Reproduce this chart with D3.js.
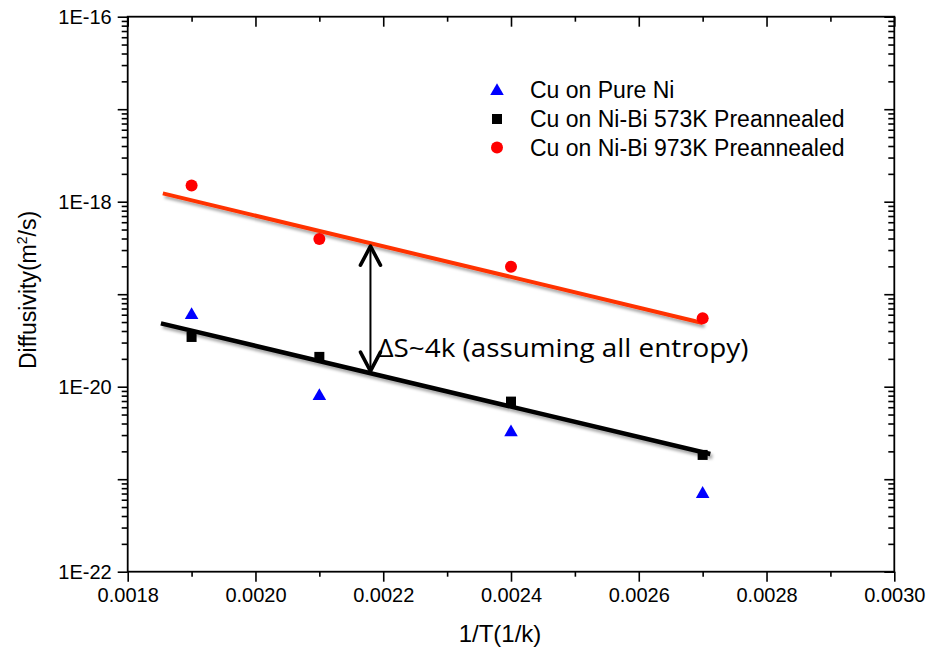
<!DOCTYPE html>
<html><head><meta charset="utf-8">
<script src="https://cdn.jsdelivr.net/npm/d3@7"></script>
<style>body{margin:0;background:#fff}svg{display:block}</style>
</head><body>
<svg id="chart" width="927" height="651"></svg>
<script>
// ---- data ----
const xVals = [0.0019, 0.0021, 0.0024, 0.0027];
const pureNi = [6.1e-20, 8.1e-21, 3.3e-21, 7.1e-22];
const niBi573 = [3.45e-20, 2.1e-20, 6.9e-21, 1.83e-21];
const niBi973 = [1.5e-18, 3.95e-19, 1.98e-19, 5.5e-20];
const fit973X = [0.001855, 0.0027];
const fit973Y = [1.23e-18, 4.89e-20];
const fit573X = [0.001852, 0.002712];
const fit573Y = [4.84e-20, 1.87e-21];
const xTickLabels = ["0.0018","0.0020","0.0022","0.0024","0.0026","0.0028","0.0030"];
const yTickLabels = ["1E-22","1E-20","1E-18","1E-16"];
const legendLabels = ["Cu on Pure Ni","Cu on Ni-Bi 573K Preannealed","Cu on Ni-Bi 973K Preannealed"];
const annotX = 0.00218;
const annotText = "ΔS~4k (assuming all entropy)";

(function(){
const svg = d3.select("#chart");
const L = 127.7, R = 894.3, T = 16.7, B = 571.7;
const x = d3.scaleLinear().domain([0.0018, 0.0030]).range([L, R]);
const y = d3.scaleLog().domain([1e-22, 1e-16]).range([B, T]);

const defs = svg.append("defs");
const f = defs.append("filter").attr("id","sh").attr("x","-10%").attr("y","-50%").attr("width","120%").attr("height","200%");
f.append("feDropShadow").attr("dx",2).attr("dy",3).attr("stdDeviation",1.6).attr("flood-color","#000").attr("flood-opacity",0.35);

// ---- axes ----
const xMajor = d3.range(0, 7).map(i => 0.0018 + i*0.0002);
const xMinor = d3.range(0, 6).map(i => 0.0019 + i*0.0002);
const yMajor = d3.range(-22, -15).map(e => Math.pow(10, e));
const yMinor = [];
for (let e = -22; e < -16; e++) for (let k = 2; k <= 9; k++) yMinor.push(k*Math.pow(10, e));

const ax = svg.append("g").attr("stroke","#000").attr("fill","none");
const gBottom = ax.append("g").attr("transform",`translate(0,${B})`)
  .call(d3.axisBottom(x).tickValues(xMajor).tickSize(10).tickFormat((d,i)=>xTickLabels[i]));
ax.append("g").attr("transform",`translate(0,${B})`)
  .call(d3.axisBottom(x).tickValues(xMinor).tickSize(5).tickFormat(""));
ax.append("g").attr("transform",`translate(0,${T})`)
  .call(d3.axisBottom(x).tickValues(xMajor).tickSize(10).tickFormat(""));
ax.append("g").attr("transform",`translate(0,${T})`)
  .call(d3.axisBottom(x).tickValues(xMinor).tickSize(5).tickFormat(""));
const gLeft = ax.append("g").attr("transform",`translate(${L},0)`)
  .call(d3.axisLeft(y).tickValues(yMajor).tickSize(10)
    .tickFormat(d => { const e = Math.round(Math.log10(d)); return e % 2 === 0 ? yTickLabels[(e+22)/2] : ""; }));
ax.append("g").attr("transform",`translate(${L},0)`)
  .call(d3.axisLeft(y).tickValues(yMinor).tickSize(6).tickFormat(""));
ax.append("g").attr("transform",`translate(${R},0)`)
  .call(d3.axisLeft(y).tickValues(yMajor).tickSize(10).tickFormat(""));
ax.append("g").attr("transform",`translate(${R},0)`)
  .call(d3.axisLeft(y).tickValues(yMinor).tickSize(6).tickFormat(""));

svg.selectAll(".domain").remove();
svg.selectAll(".tick line").attr("stroke","#000").attr("stroke-width",1.6);
svg.selectAll(".tick text").attr("fill","#000").attr("stroke","none")
  .style("font-family","'Liberation Sans', Arial, sans-serif").style("font-size","20px");
gBottom.selectAll(".tick text").attr("y", 16).attr("dy","0.71em");
gLeft.selectAll(".tick text").attr("x", -16).attr("dy","0.35em");

svg.append("rect").attr("x",L).attr("y",T).attr("width",R-L).attr("height",B-T)
  .attr("fill","none").attr("stroke","#000").attr("stroke-width",1.8);

// ---- axis titles ----
svg.append("text").attr("x",500).attr("y",642).attr("text-anchor","middle")
  .style("font-family","'Liberation Sans', Arial, sans-serif").style("font-size","24px").text("1/T(1/k)");
const yt = svg.append("text").attr("transform","translate(36,290) rotate(-90)").attr("text-anchor","middle")
  .style("font-family","'Liberation Sans', Arial, sans-serif").style("font-size","23px");
yt.append("tspan").text("Diffusivity(m");
yt.append("tspan").attr("dy",-9).style("font-size","14px").text("2");
yt.append("tspan").attr("dy",9).text("/s)");

// ---- fit lines ----
const line = d3.line().x(d => x(d[0])).y(d => y(d[1]));
svg.append("path").datum(d3.zip(fit973X, fit973Y)).attr("d", line)
  .attr("stroke","#ff3300").attr("stroke-width",4).attr("fill","none").attr("filter","url(#sh)");
svg.append("path").datum(d3.zip(fit573X, fit573Y)).attr("d", line)
  .attr("stroke","#000").attr("stroke-width",4.5).attr("fill","none").attr("filter","url(#sh)");

// ---- points ----
const tri = d3.symbol().type(d3.symbolTriangle).size(80);
svg.append("g").selectAll("path").data(d3.zip(xVals, pureNi)).join("path")
  .attr("d", tri).attr("transform", d => `translate(${x(d[0])},${y(d[1])+1})`).attr("fill","#0000ff");
svg.append("g").selectAll("rect").data(d3.zip(xVals, niBi573)).join("rect")
  .attr("x", d => x(d[0])-5).attr("y", d => y(d[1])-5).attr("width",10).attr("height",10).attr("fill","#000");
svg.append("g").selectAll("circle").data(d3.zip(xVals, niBi973)).join("circle")
  .attr("cx", d => x(d[0])).attr("cy", d => y(d[1])).attr("r",6).attr("fill","#ff0000");

// ---- annotation arrow ----
const interpLog = (xs, ys, xv) => {
  const t = (xv - xs[0])/(xs[1]-xs[0]);
  return Math.pow(10, Math.log10(ys[0]) + t*(Math.log10(ys[1])-Math.log10(ys[0])));
};
const ax0 = x(annotX);
const yTop = y(interpLog(fit973X, fit973Y, annotX)) + 3;
const yBot = y(interpLog(fit573X, fit573Y, annotX)) - 2;
const ag = svg.append("g").attr("stroke","#000").attr("fill","none").attr("stroke-linecap","round").attr("stroke-linejoin","round");
ag.append("line").attr("x1",ax0).attr("x2",ax0).attr("y1",yTop).attr("y2",yBot).attr("stroke-width",2);
ag.append("path").attr("d",`M${ax0-10},${yTop+19}L${ax0},${yTop}L${ax0+10},${yTop+19}`).attr("stroke-width",3.6);
ag.append("path").attr("d",`M${ax0-10},${yBot-19}L${ax0},${yBot}L${ax0+10},${yBot-19}`).attr("stroke-width",3.6);
svg.append("text").attr("x",ax0+7).attr("y",357)
  .attr("textLength",371).attr("lengthAdjust","spacingAndGlyphs")
  .style("font-family","'Open Sans', Lato, sans-serif").style("font-size","26px").attr("fill","#000").text(annotText);

// ---- legend ----
const lg = svg.append("g");
const rows = [90, 119, 147.5];
lg.append("path").attr("d", tri).attr("transform",`translate(497,${rows[0]+1})`).attr("fill","#0000ff");
lg.append("rect").attr("x",492).attr("y",rows[1]-5).attr("width",10).attr("height",10).attr("fill","#000");
lg.append("circle").attr("cx",497).attr("cy",rows[2]).attr("r",6).attr("fill","#ff0000");
lg.selectAll("text").data(legendLabels).join("text")
  .attr("x",530).attr("y",(d,i)=>rows[i]).attr("dy","0.35em")
  .style("font-family","'Liberation Sans', Arial, sans-serif").style("font-size","23px").text(d=>d);
})();
</script>
</body></html>
